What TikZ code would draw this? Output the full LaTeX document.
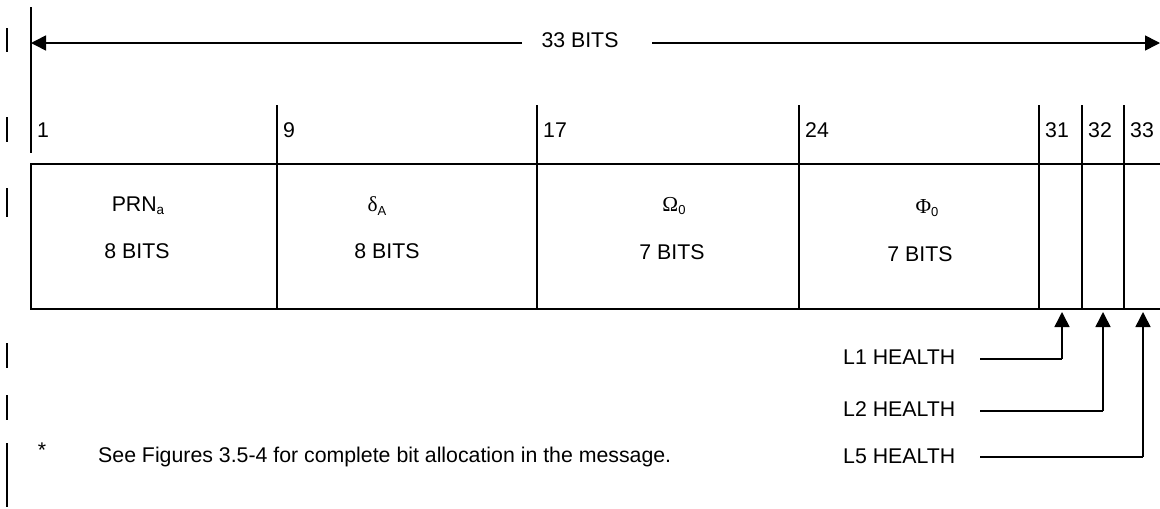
\documentclass[tikz,border=0pt]{standalone}
\usepackage{fontspec}
\setmainfont{Liberation Sans}
\newfontfamily\grk{Liberation Serif}
\usetikzlibrary{arrows.meta}
\begin{document}
\begin{tikzpicture}[x=1pt,y=-1pt,
  ln/.style={line width=1.6pt},
  bar/.style={line width=2pt},
  txt/.style={inner sep=0pt,font=\fontsize{21.3}{25}\selectfont},
  lbl/.style={txt,anchor=west},
  tip/.style={-{Triangle[length=15pt,width=15pt]}}]
\useasboundingbox (0,0) rectangle (1160,509);
% left margin bars
\foreach \a/\b in {28/52,117/142,188/217,343/368,395/420,443/507}
  \draw[bar] (7,\a) -- (7,\b);
% bit scale
\coordinate (L) at (31,43);
\coordinate (R) at (1160,43);
\coordinate (g1) at (522,43);
\coordinate (g2) at (652,43);
\node[txt] (tot) at (580,40) {33 BITS};
\draw[ln] (31,7) -- (31,153);
\draw[ln,tip] (g1) -- (L);
\draw[ln,tip] (g2) -- (R);
% ticks
\foreach \x in {277,537,799,1039,1082,1124}
  \draw[ln] (\x,105) -- (\x,164);
\foreach \x/\t in {31/1,277/9,537/17,799/24,1039/31,1082/32,1124/33}
  \node[lbl] at (\x+6,130) {\t};
% box
\draw[ln] (1160,164) -- (31,164) -- (31,309) -- (1160,309);
\foreach \x in {277,537,799,1039,1082,1124}
  \draw[ln] (\x,164) -- (\x,309);
% fields
\node[txt] (f1) at (138,206) {PRN\raisebox{-0.25ex}{\fontsize{13.5}{14}\selectfont a}};
\node[txt] (f2) at (377,206) {{\grk δ}\raisebox{-0.3ex}{\fontsize{13}{14}\selectfont A}};
\node[txt] (f3) at (674,206) {{\grk Ω}\raisebox{-0.3ex}{\fontsize{13}{14}\selectfont 0}};
\node[txt] (f4) at (927,208) {{\grk Φ}\raisebox{-0.3ex}{\fontsize{13}{14}\selectfont 0}};
\node[txt] (b1) at (137,251) {8 BITS};
\node[txt] (b2) at (387,251) {8 BITS};
\node[txt] (b3) at (672,252) {7 BITS};
\node[txt] (b4) at (920,254) {7 BITS};
% health
\node[lbl] (h1) at (843,357) {L1 HEALTH};
\node[lbl] (h2) at (843,409) {L2 HEALTH};
\node[lbl] (h3) at (843,456) {L5 HEALTH};
\coordinate (c1) at (1062,359);
\coordinate (c2) at (1103,411);
\coordinate (c3) at (1143,457);
\draw[ln] (980,359) -- (c1);
\draw[ln] (980,411) -- (c2);
\draw[ln] (980,457) -- (c3);
\draw[ln,tip] (c1) -- (1062,312);
\draw[ln,tip] (c2) -- (1103,312);
\draw[ln,tip] (c3) -- (1143,312);
% footnote
\node[txt] (star) at (42,450) {*};
\node[lbl] (note) at (98,457) {See Figures 3.5-4 for complete bit allocation in the message.};
\end{tikzpicture}
\end{document}
